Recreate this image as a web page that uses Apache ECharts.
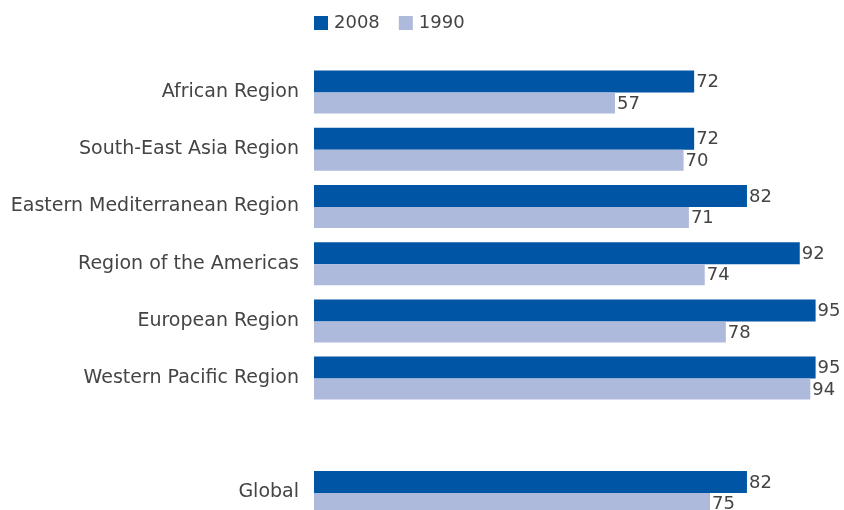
<!DOCTYPE html>
<html>
<head>
<meta charset="utf-8">
<script src="https://cdn.jsdelivr.net/npm/echarts@6/dist/echarts.min.js"></script>
<style>
  html, body { margin: 0; padding: 0; background: #fff; overflow: hidden; }
  #wrap { width: 844px; height: 510px; overflow: hidden; }
  /* the plot runs slightly past the bottom edge, so the last bar is cut */
  #chart { width: 844px; height: 540px; }
</style>
</head>
<body>
<div id="wrap"><div id="chart"></div></div>
<script>
// Regions (top to bottom); the blank entry separates the regions from the global figure
const regions = [
  'African Region',
  'South-East Asia Region',
  'Eastern Mediterranean Region',
  'Region of the Americas',
  'European Region',
  'Western Pacific Region',
  '',
  'Global'
];
const values2008 = [72, 72, 82, 92, 95, 95, null, 82];
const values1990 = [57, 70, 71, 74, 78, 94, null, 75];

const FONT = '"DejaVu Sans", sans-serif';
const TEXT = '#444444';

const chart = echarts.init(document.getElementById('chart'), null, { renderer: 'canvas' });

const labelStyle = {
  show: true,
  position: 'right',
  distance: 2,
  offset: [0, 1],
  color: TEXT,
  fontFamily: FONT,
  fontSize: 18,
  formatter: p => (p.value == null ? '' : p.value)
};

chart.setOption({
  animation: false,
  backgroundColor: '#ffffff',
  legend: {
    left: 314,
    top: 14,
    padding: 0,
    itemWidth: 14,
    itemHeight: 14,
    itemGap: 19,
    icon: 'rect',
    textStyle: { color: TEXT, fontFamily: FONT, fontSize: 18, padding: [0, 0, 0, 1] },
    data: ['2008', '1990']
  },
  grid: {
    left: 314,
    top: 63.5,
    width: 528,
    height: 457.6,
    containLabel: false
  },
  xAxis: {
    type: 'value',
    min: 0,
    max: 100,
    show: false
  },
  yAxis: {
    type: 'category',
    inverse: true,
    data: regions,
    axisLine: { show: false },
    axisTick: { show: false },
    axisLabel: {
      margin: 15,
      color: TEXT,
      fontFamily: FONT,
      fontSize: 19
    }
  },
  series: [
    {
      name: '2008',
      type: 'bar',
      data: values2008,
      barWidth: 22,
      barGap: '0%',
      itemStyle: { color: '#0055a5' },
      label: labelStyle
    },
    {
      name: '1990',
      type: 'bar',
      data: values1990,
      barWidth: 21,
      barGap: '0%',
      itemStyle: { color: '#aebadc' },
      label: labelStyle
    }
  ]
});
</script>
</body>
</html>
